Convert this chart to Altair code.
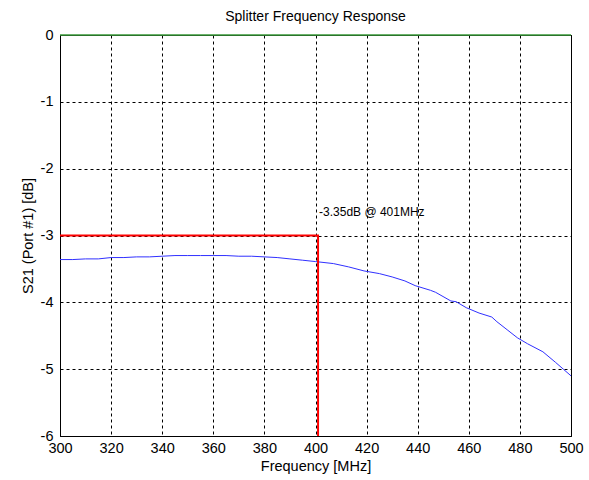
import altair as alt
import pandas as pd

freq = [300, 305, 310, 315, 320, 325, 330, 335, 340, 345, 350, 355, 360, 365, 370, 375, 380,
        385, 390, 395, 400, 407, 413, 419, 425, 430, 435, 439, 445, 447, 453, 455, 459,
        464, 469, 471, 475, 479, 483, 489, 494, 497, 500]
s21 = [-3.36, -3.36, -3.35, -3.35, -3.33, -3.33, -3.32, -3.32, -3.31, -3.30, -3.30, -3.30,
       -3.30, -3.30, -3.31, -3.31, -3.32, -3.33, -3.35, -3.37, -3.39, -3.42, -3.47, -3.53,
       -3.57, -3.62, -3.68, -3.75, -3.82, -3.85, -3.98, -3.99, -4.08, -4.16, -4.22, -4.29,
       -4.41, -4.53, -4.62, -4.74, -4.90, -5.00, -5.10]

marker_freq = 401
marker_level = -3
x_min, x_max = 300, 500
y_min, y_max = -6, 0
x_ticks = list(range(300, 501, 20))
y_ticks = [-6, -5, -4, -3, -2, -1, 0]
label_text = "-3.35dB @ 401MHz"
label_y = -2.65

curve = pd.DataFrame({"freq": freq, "s21": s21})

xs = alt.Scale(domain=[x_min, x_max], nice=False, zero=False)
ys = alt.Scale(domain=[y_min, y_max], nice=False, zero=False)

FONT = "Liberation Sans"
LFS = 14.5

xax = alt.Axis(values=x_ticks, grid=True, gridDash=[3, 3], gridColor="black", gridOpacity=1,
               ticks=False, domainColor="black", labelColor="black", labelFontSize=LFS,
               labelFont=FONT, labelPadding=5, labelFlush=False, labelOverlap=False,
               labelExpr="'' + datum.value",
               titleFont=FONT, titleFontSize=LFS,
               titleFontWeight="normal", titleColor="black", titlePadding=5,
               title="Frequency [MHz]")
yax = alt.Axis(values=y_ticks, grid=True, gridDash=[3, 3], gridColor="black", gridOpacity=1,
               ticks=False, domainColor="black", labelColor="black", labelFontSize=LFS,
               labelFont=FONT, labelPadding=7, titleFont=FONT, titleFontSize=LFS,
               titleFontWeight="normal", titleColor="black", titlePadding=5,
               labelOverlap=False, labelBound=False, labelFlush=False,
               labelExpr="'' + datum.value",
               title="S21 (Port #1) [dB]")

base_line = alt.Chart(curve).mark_line(color="#3030ff", strokeWidth=1, clip=True).encode(
    x=alt.X("freq:Q", scale=xs, axis=xax),
    y=alt.Y("s21:Q", scale=ys, axis=yax),
)

zero_df = pd.DataFrame({"freq": [x_min, x_max], "s21": [y_max, y_max]})
zero_line = alt.Chart(zero_df).mark_line(color="#3a9a3a", strokeWidth=1.5).encode(
    x=alt.X("freq:Q", scale=xs), y=alt.Y("s21:Q", scale=ys)
)

red_df = pd.DataFrame({
    "freq": [x_min, marker_freq, marker_freq],
    "s21": [marker_level, marker_level, y_min],
    "o": [0, 1, 2],
})
red_line = alt.Chart(red_df).mark_line(color="#ff0000", strokeWidth=2).encode(
    x=alt.X("freq:Q", scale=xs), y=alt.Y("s21:Q", scale=ys), order="o:Q"
)

txt_df = pd.DataFrame({"freq": [marker_freq], "s21": [label_y], "t": [label_text]})
txt = alt.Chart(txt_df).mark_text(align="left", baseline="middle", dx=1, fontSize=12,
                                  font=FONT, color="black").encode(
    x=alt.X("freq:Q", scale=xs), y=alt.Y("s21:Q", scale=ys), text="t:N"
)

chart = alt.layer(base_line, zero_line, red_line, txt).properties(
    width=511, height=401,
    title=alt.TitleParams("Splitter Frequency Response", font=FONT, fontSize=14,
                          fontWeight="normal", color="black", offset=3),
    autosize=alt.AutoSizeParams(type="none"),
    padding={"left": 60, "top": 35, "right": 18, "bottom": 44},
    background="white",
).configure_view(stroke="black", strokeWidth=1)

chart.save("out.html", embed_options={"renderer": "svg", "actions": False})
